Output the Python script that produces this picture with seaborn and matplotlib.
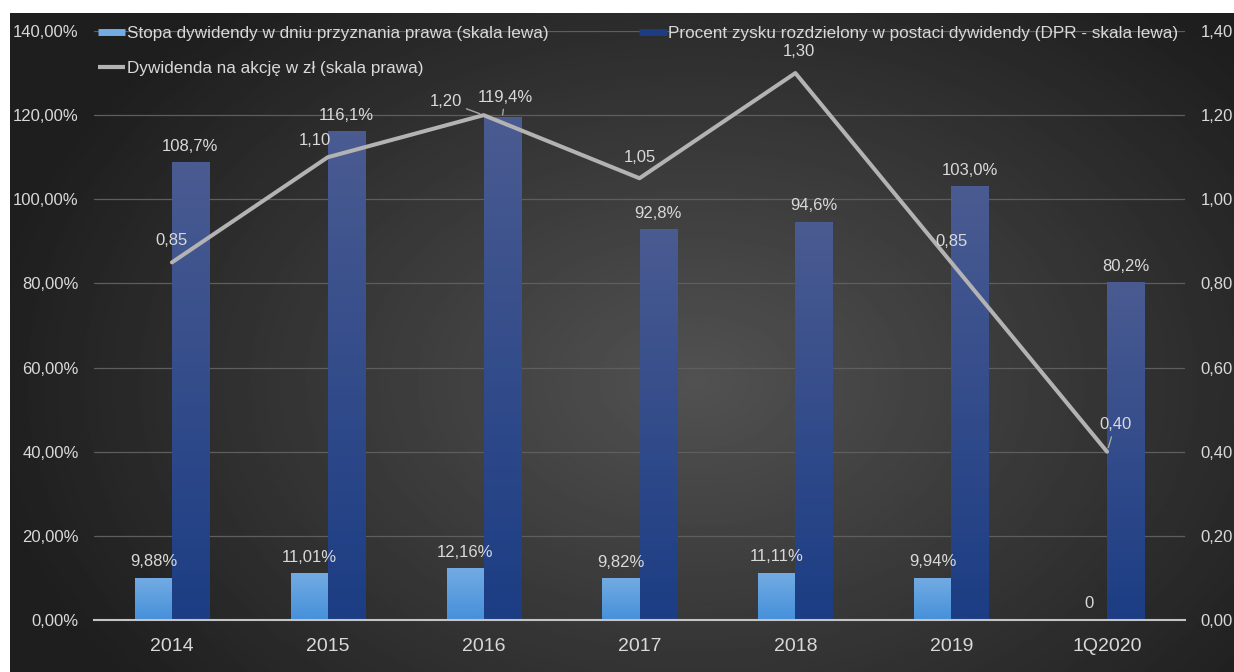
import numpy as np
import pandas as pd
import seaborn as sns
import matplotlib.pyplot as plt
from matplotlib.lines import Line2D
from matplotlib.colors import LinearSegmentedColormap

# data
categories = ["2014", "2015", "2016", "2017", "2018", "2019", "1Q2020"]
yield_pct = [9.88, 11.01, 12.16, 9.82, 11.11, 9.94, 0.0]
yield_labels = ["9,88%", "11,01%", "12,16%", "9,82%", "11,11%", "9,94%", "0"]
dpr_pct = [108.7, 116.1, 119.4, 92.8, 94.6, 103.0, 80.2]
dps_pln = [0.85, 1.10, 1.20, 1.05, 1.30, 0.85, 0.40]
left_ticks = [0, 20, 40, 60, 80, 100, 120, 140]
right_ticks = [0.0, 0.2, 0.4, 0.6, 0.8, 1.0, 1.2, 1.4]

name_yield = "Stopa dywidendy w dniu przyznania prawa (skala lewa)"
name_dpr = "Procent zysku rozdzielony w postaci dywidendy (DPR - skala lewa)"
name_dps = "Dywidenda na akcję w zł (skala prawa)"

TXT = "#d9d9d9"
LIGHT_TOP, LIGHT_BOT = "#72abe3", "#4690da"
DARK_TOP, DARK_BOT = "#4a5b91", "#1c3d84"
LINE_COL = "#b3b3b3"

sns.set_theme(style="dark")
plt.rcParams["font.family"] = ["Liberation Sans", "DejaVu Sans"]

W, H = 1234, 672
fig = plt.figure(figsize=(W / 100, H / 100), dpi=100, facecolor="white")

# background: dark radial gradient, white strip top and left
bg = fig.add_axes([10 / W, 0, 1 - 10 / W, (H - 13) / H], zorder=-10)
yy, xx = np.mgrid[0:1:300j, 0:1:600j]
r = np.sqrt(((xx - 0.56) / 0.7) ** 2 + ((yy - 0.56) / 0.9) ** 2)
shade = np.clip(0.32 - 0.24 * r, 0.12, 1)
bg.imshow(shade, cmap="gray", vmin=0, vmax=1, aspect="auto", extent=[0, 1, 1, 0])
bg.set_axis_off()

ax = fig.add_axes([94 / W, 52 / H, (1185 - 94) / W, (620 - 31) / H])
ax.set_facecolor("none")

df = pd.DataFrame({
    "kategoria": categories * 2,
    "wartosc": yield_pct + dpr_pct,
    "seria": [name_yield] * len(categories) + [name_dpr] * len(categories),
})
sns.barplot(data=df, x="kategoria", y="wartosc", hue="seria",
            palette=[LIGHT_BOT, DARK_BOT], width=0.475, gap=0,
            legend=False, ax=ax, saturation=1)


def gradient_bar(patch, top, bottom):
    x0, w, h = patch.get_x(), patch.get_width(), patch.get_height()
    patch.set_visible(False)
    if h <= 0:
        return
    cmap = LinearSegmentedColormap.from_list("g", [bottom, top])
    grad = np.linspace(0, 1, 128).reshape(-1, 1)
    ax.imshow(grad, extent=[x0, x0 + w, 0, h], origin="lower", cmap=cmap,
              aspect="auto", zorder=2)


for p in ax.containers[0]:
    gradient_bar(p, LIGHT_TOP, LIGHT_BOT)
for p in ax.containers[1]:
    gradient_bar(p, DARK_TOP, DARK_BOT)
ax.set_xlim(-0.5, len(categories) - 0.5)
ax.set_ylim(0, 140)

# bar value labels
for p, lab in zip(ax.containers[0], yield_labels):
    ax.annotate(lab, (p.get_x() + p.get_width() / 2, p.get_height()),
                xytext=(0, 9), textcoords="offset pixels", ha="center",
                va="bottom", color=TXT, fontsize=12, zorder=5)
for i, (p, v) in enumerate(zip(ax.containers[1], dpr_pct)):
    kw = {}
    off = (0, 9)
    if categories[i] == "2016":
        # this label sits a little higher, with a short leader line
        off = (3, 13)
        kw["arrowprops"] = dict(arrowstyle="-", color="#a6a6a6", lw=1,
                                shrinkA=1, shrinkB=2)
    ax.annotate(f"{v:.1f}%".replace(".", ","),
                (p.get_x() + p.get_width() / 2, p.get_height()),
                xytext=off, textcoords="offset pixels", ha="center",
                va="bottom", color=TXT, fontsize=12, zorder=5, **kw)

ax.yaxis.grid(True, color="#5e5e5e", linewidth=0.9)
ax.xaxis.grid(False)
ax.set_axisbelow(True)
ax.set_yticks(left_ticks)
ax.set_yticklabels([f"{v:.2f}%".replace(".", ",") for v in left_ticks])
ax.tick_params(axis="y", length=0, pad=11, labelsize=12, labelcolor=TXT)
ax.tick_params(axis="x", length=0, pad=13, labelsize=14, labelcolor=TXT)
ax.set_xlabel("")
ax.set_ylabel("")
for s in ["top", "left", "right"]:
    ax.spines[s].set_visible(False)
ax.spines["bottom"].set_color("#c4c4c4")
ax.spines["bottom"].set_linewidth(1.5)

# dividend per share line, right axis
ax2 = ax.twinx()
ax2.set_facecolor("none")
xpos = np.arange(len(categories))
sns.lineplot(x=xpos, y=dps_pln, ax=ax2, color=LINE_COL, linewidth=2.9,
             legend=False, zorder=4)
ax2.set_ylim(0, 1.4)
ax2.set_yticks(right_ticks)
ax2.set_yticklabels([f"{v:.2f}".replace(".", ",") for v in right_ticks])
ax2.tick_params(axis="y", length=0, pad=11, labelsize=12, labelcolor=TXT)
ax2.grid(False)
for s in ax2.spines.values():
    s.set_visible(False)
ax.set_xlim(-0.5, len(categories) - 0.5)

# line labels (offsets in pixels), two with leader lines
line_offsets = [(0, 22), (-13, 17), (-38, 14), (0, 21), (4, 22), (0, 21), (8, 27)]
leaders = [False, False, True, False, False, False, True]
for x, v, off, lead in zip(xpos, dps_pln, line_offsets, leaders):
    kw = {}
    if lead:
        kw["arrowprops"] = dict(arrowstyle="-", color="#a6a6a6", lw=1,
                                shrinkA=1, shrinkB=3)
    ax2.annotate(f"{v:.2f}".replace(".", ","), (x, v), xytext=off,
                 textcoords="offset pixels", ha="center", va="center",
                 color=TXT, fontsize=12, zorder=6, **kw)

# legend
handles = [
    Line2D([], [], color=LIGHT_TOP, lw=5, solid_capstyle="butt"),
    Line2D([], [], color=LINE_COL, lw=3, solid_capstyle="butt"),
    Line2D([], [], color=DARK_BOT, lw=5, solid_capstyle="butt"),
]
fig.legend(handles, [name_yield, name_dps, name_dpr], ncol=2,
           loc="upper left", bbox_to_anchor=(98 / W, 1 - 26 / H),
           frameon=False, fontsize=12.3, labelcolor=TXT, handlelength=1.6,
           handletextpad=0.1, columnspacing=5.3, labelspacing=1.15,
           borderpad=0, borderaxespad=0)

fig.savefig("out.png", dpi=100, facecolor="white")
